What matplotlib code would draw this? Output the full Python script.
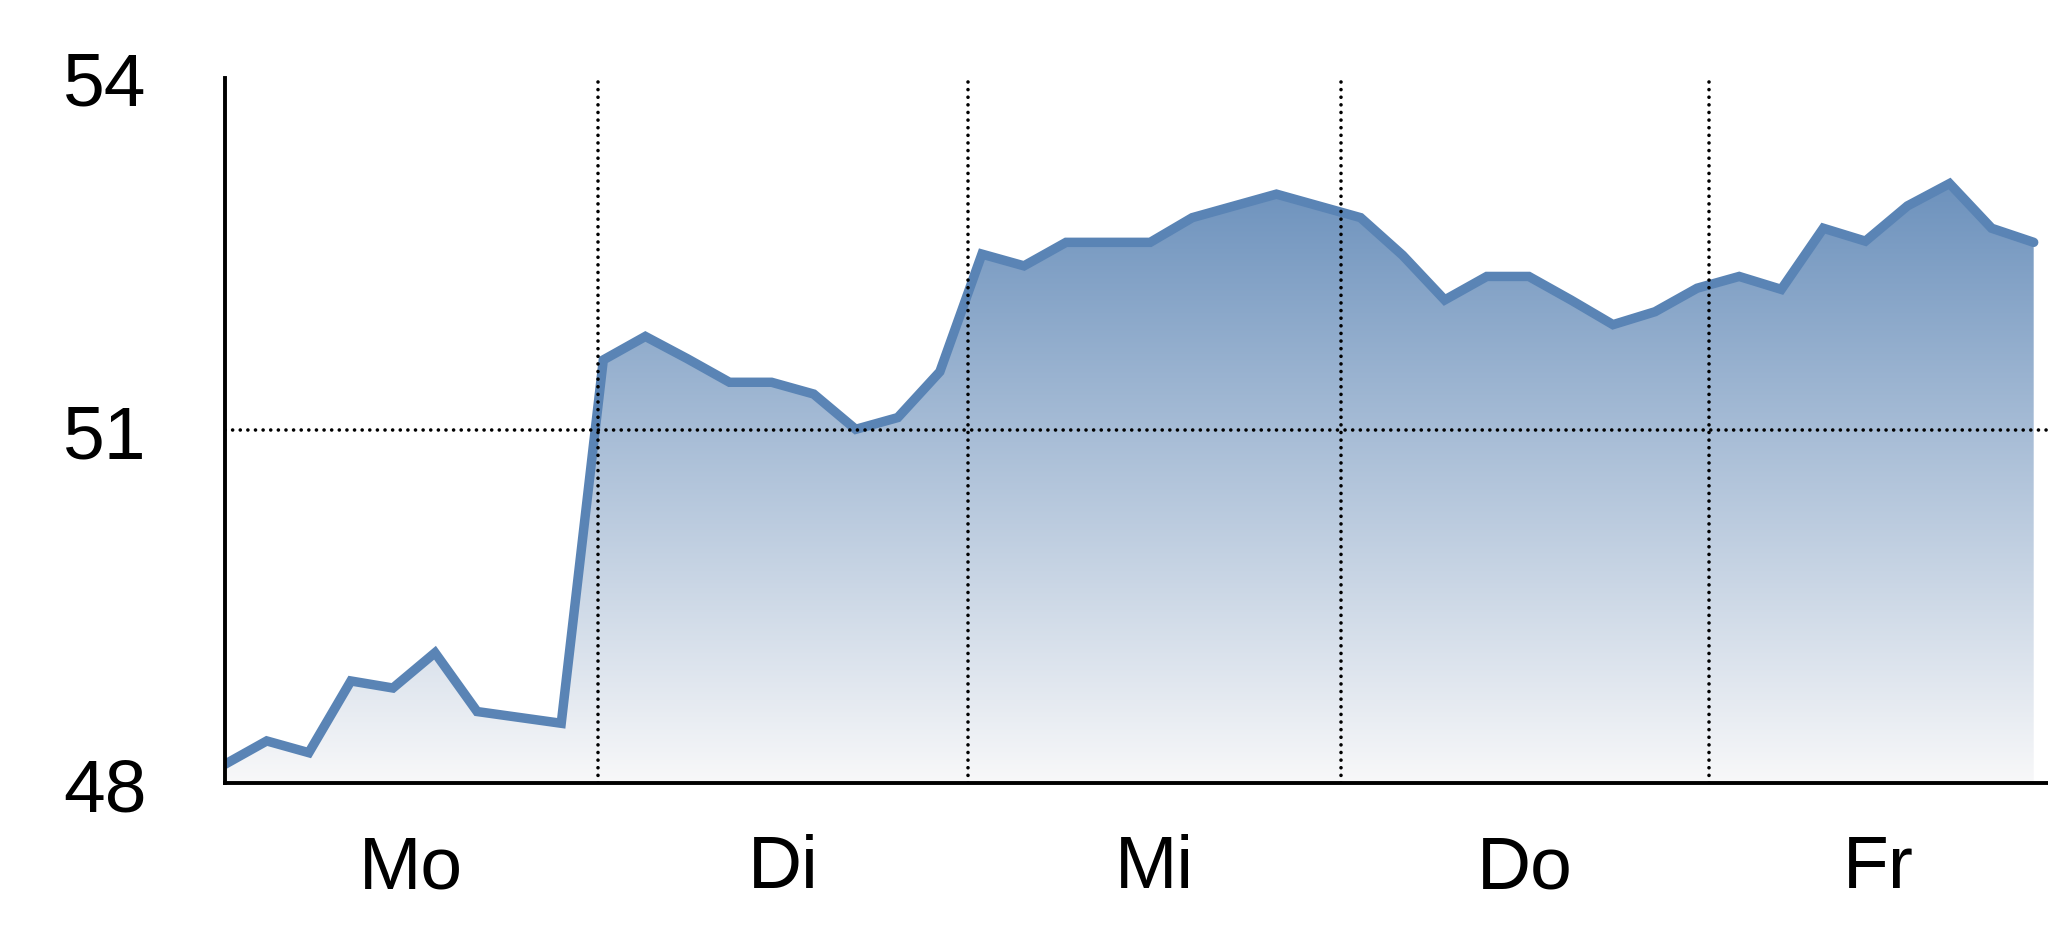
import numpy as np
import matplotlib
matplotlib.use('Agg')
from matplotlib import pyplot as plt
from matplotlib.colors import LinearSegmentedColormap

# price series, one point per step
values = [48.16, 48.36, 48.26, 48.87, 48.81, 49.11, 48.61, 48.56, 48.51,
          51.60, 51.80, 51.61, 51.41, 51.41, 51.31, 51.01, 51.11, 51.50, 52.50,
          52.40, 52.60, 52.60, 52.60, 52.81, 52.91, 53.01, 52.91, 52.81, 52.49,
          52.11, 52.31, 52.31, 52.11, 51.90, 52.01, 52.21, 52.31, 52.20, 52.72,
          52.61, 52.91, 53.10, 52.72, 52.60]
days = ['Mo', 'Di', 'Mi', 'Do', 'Fr']
day_centers = [4.43, 13.27, 22.1, 30.91, 39.3]
day_bounds = [8.87, 17.67, 26.54, 35.28]
yticks = [48, 51, 54]

x = np.arange(len(values))
y = np.array(values)

plt.rcParams['font.family'] = ['Liberation Sans Narrow', 'Liberation Sans', 'DejaVu Sans']

fig = plt.figure(figsize=(20.48, 9.37), dpi=100)
ax = fig.add_axes([0.1097, 0.163, 0.8903, 0.753])
xmax = 43.34

# gradient fill under the line
cmap = LinearSegmentedColormap.from_list('g', ['#f8f8f9', '#6d92bd'])
grad = np.linspace(0, 1, 256).reshape(-1, 1)
img = ax.imshow(grad, cmap=cmap, origin='lower', aspect='auto',
                extent=[0, x[-1], 48, y.max()], zorder=1)
poly = ax.fill_between(x, y, 48, color='none', lw=0)
img.set_clip_path(poly.get_paths()[0], transform=ax.transData)
ax.set_xlim(0, xmax)
ax.set_ylim(48, 54)

ax.plot(x, y, color='#5a84b5', lw=6.8, solid_capstyle='round',
        solid_joinstyle='miter', zorder=2)

# dotted grid on top
dots = (0, (0.01, 2.1))
for b in day_bounds:
    ax.plot([b, b], [48, 54], color='black', lw=2.6, linestyle=dots,
            dash_capstyle='round', zorder=3)
ax.plot([0, xmax], [51, 51], color='black', lw=2.6, linestyle=dots,
        dash_capstyle='round', zorder=3)

for s in ['top', 'right']:
    ax.spines[s].set_visible(False)
ax.spines['left'].set_linewidth(2.8)
ax.spines['bottom'].set_linewidth(2.8)

ax.set_yticks(yticks)
ax.set_yticklabels([str(t) for t in yticks])
ax.set_xticks(day_centers)
ax.set_xticklabels(days)
ax.tick_params(axis='both', length=0, labelsize=54)
ax.tick_params(axis='y', pad=56)
ax.tick_params(axis='x', pad=36)

fig.savefig('out.png', dpi=100)
